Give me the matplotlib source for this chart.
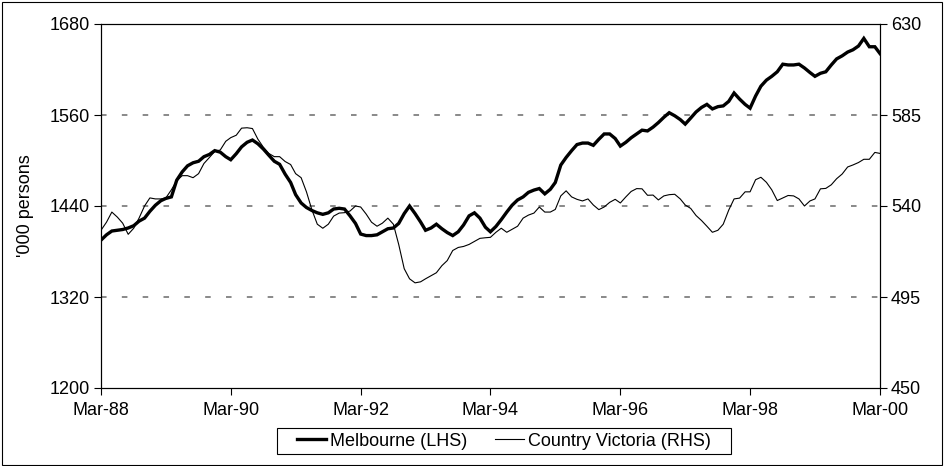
import pandas as pd
import matplotlib
matplotlib.use('Agg')
import matplotlib.pyplot as plt
import matplotlib.dates as mdates
from matplotlib.patches import Rectangle

plt.rcParams['font.family'] = ['Liberation Sans', 'DejaVu Sans']
plt.rcParams['lines.scale_dashes'] = False

# monthly labour force, Mar-88 .. Mar-00
start_month = '1988-03-01'

melbourne = [
    1395, 1402, 1407, 1408, 1409, 1411, 1414, 1420, 1424, 1433, 1441, 1447,
    1450, 1452, 1474, 1485, 1493, 1497, 1499, 1505, 1508, 1513, 1511, 1505,
    1501, 1509, 1518, 1524, 1527, 1522, 1515, 1507, 1499, 1495, 1482, 1471,
    1455, 1444, 1438, 1434, 1431, 1429, 1431, 1436, 1437, 1436, 1427, 1417,
    1403, 1401, 1401, 1402, 1406, 1410, 1411, 1417, 1430, 1440, 1430, 1419,
    1408, 1411, 1416, 1410, 1405, 1401, 1406, 1415, 1427, 1431, 1424, 1412,
    1406, 1413, 1422, 1432, 1441, 1448, 1452, 1458, 1461, 1463, 1456, 1462,
    1471, 1494, 1504, 1513, 1521, 1523, 1523, 1520, 1528, 1535, 1535, 1529,
    1519, 1524, 1530, 1535, 1540, 1539, 1544, 1550, 1557, 1563, 1559, 1554,
    1548, 1556, 1564, 1570, 1574, 1568, 1571, 1572, 1578, 1589, 1581, 1574,
    1569, 1585, 1598, 1606, 1611, 1617, 1627, 1626, 1626, 1627, 1622, 1616,
    1611, 1615, 1617, 1626, 1634, 1638, 1643, 1646, 1651, 1661, 1650, 1650,
    1641,
]

country_vic = [
    528, 532, 537, 534.5, 531.5, 526, 529, 534, 540, 544, 543.5, 543.5,
    544, 548, 552.5, 555, 555, 554, 556, 561, 564, 567, 567.7, 572,
    573.8, 575, 578.5, 578.7, 578.3, 573, 569, 566, 564.4, 564.4, 562, 560.5,
    556, 554, 547, 538, 531, 529, 531, 535, 536.5, 536.7, 537.5, 540,
    539.5, 536, 532, 530, 531.5, 534, 531, 521, 509, 504, 502, 502.5,
    504, 505.5, 507, 510.5, 513, 518, 519.5, 520, 521, 522.5, 524, 524.3,
    524.5, 527, 529, 527, 528.5, 530, 534, 535.5, 536.5, 539.5, 537, 537,
    538.3, 545, 547.5, 544.5, 543.3, 542.5, 543.5, 540.5, 538.2, 539.5, 541.8, 543.3,
    541.5, 544.5, 547.2, 548.6, 548.5, 545.3, 545.4, 543, 545, 545.6, 545.8, 543.5,
    540.5, 538.8, 535.3, 532.8, 530, 527, 528, 531, 538, 543.5, 543.9, 547,
    547, 553, 554.2, 551.7, 548, 542.7, 544, 545.2, 545, 543.5, 540, 542.5,
    543.5, 548.5, 548.7, 550.5, 553.5, 555.8, 559.3, 560.3, 561.5, 563.1, 563.1, 566.5,
    566,
]

left_ticks = [1200, 1320, 1440, 1560, 1680]
right_ticks = [450, 495, 540, 585, 630]

dates = pd.date_range(start_month, periods=len(melbourne), freq='MS')

W, H = 945, 466
fig = plt.figure(figsize=(W/100, H/100), dpi=100)
ax = fig.add_axes([101/W, 1-388/H, 779/W, 364/H])
ax2 = ax.twinx()

ax.plot(dates, melbourne, color='black', linewidth=2.4, solid_joinstyle='miter',
        label='Melbourne (LHS)', zorder=3)
ax2.plot(dates, country_vic, color='black', linewidth=0.8,
         label='Country Victoria (RHS)', zorder=3)

ax.set_xlim(dates[0], dates[-1])
ax.set_ylim(1200, 1680)
ax2.set_ylim(450, 630)
ax.set_yticks(left_ticks)
ax2.set_yticks(right_ticks)

ax.xaxis.set_major_locator(mdates.MonthLocator(bymonth=3, interval=24))
ax.xaxis.set_major_formatter(mdates.DateFormatter('%b-%y'))

for a in (ax, ax2):
    a.tick_params(direction='out', length=5, width=0.8, labelsize=13, pad=3, color='black')
    for s in a.spines.values():
        s.set_linewidth(0.8)
        s.set_color('black')
ax.tick_params(axis='x', pad=5)

ax.yaxis.grid(True, color='#808080', linestyle=(0, (4, 11)), linewidth=1.3)
ax.get_ygridlines()[0].set_visible(False)
ax.set_axisbelow(True)

ax.set_ylabel("'000 persons", fontsize=13)
ax.yaxis.set_label_coords(-0.086, 0.5)

h1, l1 = ax.get_legend_handles_labels()
h2, l2 = ax2.get_legend_handles_labels()
leg = fig.legend(h1 + h2, l1 + l2, loc='center', bbox_to_anchor=(504/W, 1-441/H),
                 ncol=2, fontsize=13, frameon=False, handlelength=1.6,
                 handletextpad=0.22, columnspacing=1.55, borderpad=0.2)

# legend box
fig.patches.append(Rectangle((277/W, 1-454/H), 454/W, 26/H, transform=fig.transFigure,
                             fill=False, edgecolor='black', linewidth=0.8))
# chart border
fig.patches.append(Rectangle((0.002, 0.003), 0.995, 0.993, transform=fig.transFigure,
                             fill=False, edgecolor='black', linewidth=0.8))

fig.savefig('out.png', dpi=100)
